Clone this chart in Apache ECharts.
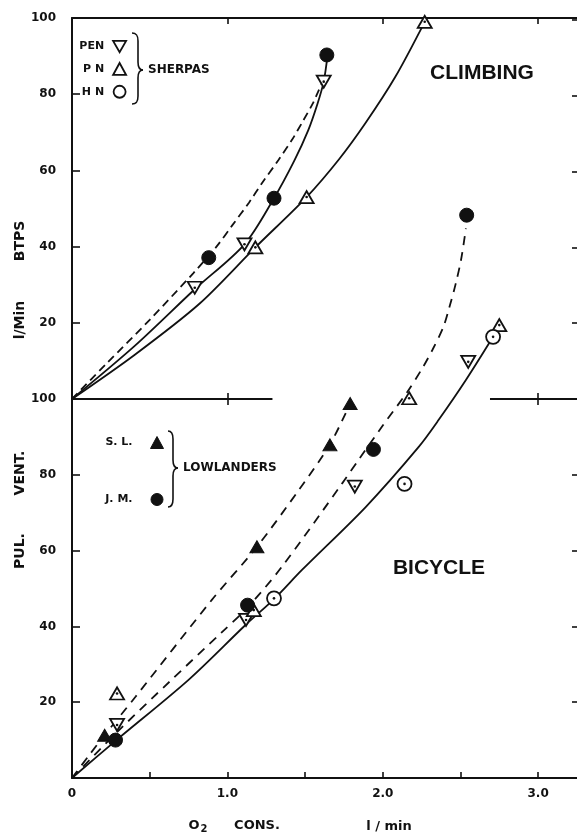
<!DOCTYPE html>
<html>
<head>
<meta charset="utf-8">
<script src="https://cdn.jsdelivr.net/npm/echarts@6/dist/echarts.min.js"></script>
<style>
  html, body { margin: 0; padding: 0; background: #fff; }
  #chart { width: 577px; height: 834px; }
</style>
</head>
<body>
<div id="chart"></div>
<script>
// Pulmonary ventilation (l/min BTPS) against O2 consumption (l/min)
// Upper panel: climbing; lower panel: bicycle ergometer.

// ---- tick labels ----
const xLabelValues = [0, 1, 2, 3];
const xLabels = ['0', '1.0', '2.0', '3.0'];
const xTickValues = [0.5, 1, 1.5, 2, 2.5, 3];
const yLabelValues = [20, 40, 60, 80, 100];
const yTickValues = [20, 40, 60, 80];

// ---- climbing: observed points [O2 cons, ventilation] ----
const climbPEN = [[0.79, 29.2], [1.11, 40.6], [1.62, 83.3]];
const climbPN = [[1.18, 39.8], [1.51, 53.0], [2.27, 99.0]];
const climbFilled = [[0.88, 37.1], [1.30, 52.7], [1.64, 90.3]];

// ---- climbing: fitted curves ----
const climbDashed = [[0, 0], [0.22, 9.2], [0.50, 20.8], [0.78, 33.0], [0.93, 40.0], [1.03, 45.5],
  [1.14, 51.6], [1.22, 56.5], [1.33, 62.8], [1.42, 68.3], [1.48, 72.5], [1.55, 77.6], [1.59, 81.2], [1.61, 83.0]];
const climbSolidA = [[0, 0], [0.40, 13.8], [0.79, 28.8], [1.11, 40.6], [1.30, 52.7], [1.43, 62.5],
  [1.52, 70.5], [1.58, 77.5], [1.62, 83.3], [1.645, 90.3]];
const climbSolidB = [[0, 0], [0.40, 11.5], [0.82, 25.0], [1.18, 39.8], [1.51, 53.0], [1.72, 63.0],
  [1.89, 72.5], [2.08, 84.5], [2.27, 99.0]];

// ---- bicycle: observed points ----
const bikePEN = [[0.29, 14.0], [1.12, 41.7], [1.82, 76.9], [2.55, 109.8]];
const bikePN = [[0.29, 22.3], [1.17, 44.3], [2.17, 100.2], [2.75, 119.5]];
const bikeHN = [[1.30, 47.4], [2.14, 77.6], [2.71, 116.4]];
const bikeSL = [[0.21, 11.3], [1.19, 61.0], [1.66, 87.9], [1.79, 98.8]];
const bikeJM = [[0.28, 10.0], [1.13, 45.6], [1.94, 86.7], [2.54, 148.5]];

// ---- bicycle: fitted curves ----
const bikeSLFit = [[0, 0], [0.11, 6.0], [0.21, 11.3], [0.41, 21.5], [0.90, 47.0], [1.19, 61.0],
  [1.46, 76.0], [1.66, 88.0], [1.79, 98.8]];
const bikeJMFit = [[0, 0], [0.30, 12.5], [0.63, 25.5], [0.96, 38.3], [1.13, 45.0], [1.35, 55.7],
  [1.74, 77.8], [1.85, 84.3], [2.00, 93.0], [2.16, 102.0], [2.26, 108.5], [2.32, 113.0], [2.39, 119.0],
  [2.43, 124.4], [2.47, 130.5], [2.505, 137.0], [2.535, 145.0]];
const bikeSherpaFit = [[0, 0], [0.28, 9.8], [0.75, 25.9], [1.12, 40.5], [1.30, 47.2], [1.48, 54.9],
  [1.89, 71.5], [2.23, 87.3], [2.36, 94.5], [2.535, 105.0], [2.71, 116.4]];

const FONT = 'DejaVu Sans';
const INK = '#111';
const TRI_DOWN = 'path://M0,0L10,0L5,8.66Z';

const openStyle = { color: '#fff', borderColor: INK, borderWidth: 1.8, opacity: 1 };
const filledStyle = { color: INK, borderColor: INK, borderWidth: 1, opacity: 1 };

function fitLine(name, data, grid, dashed) {
  const axes = grid === 0 ? { xAxisIndex: 0, yAxisIndex: 0 } : { xAxisIndex: 1, yAxisIndex: 2 };
  return Object.assign({
    name, type: 'line', data, smooth: 0.3, showSymbol: false, silent: true, z: 2,
    lineStyle: { color: INK, width: 1.8, type: dashed || 'solid', opacity: 1 }
  }, axes);
}
function points(name, data, grid, symbol, size, style) {
  const axes = grid === 0 ? { xAxisIndex: 0, yAxisIndex: 0 } : { xAxisIndex: 1, yAxisIndex: 2 };
  return Object.assign({
    name, type: 'scatter', data, symbol, symbolSize: size, itemStyle: style, z: 3, silent: true
  }, axes);
}
function centreDots(name, data, grid) {
  const axes = grid === 0 ? { xAxisIndex: 0, yAxisIndex: 0 } : { xAxisIndex: 1, yAxisIndex: 2 };
  return Object.assign({
    name, type: 'scatter', data, symbol: 'circle', symbolSize: 2.6,
    itemStyle: { color: INK, opacity: 1 }, z: 4, silent: true
  }, axes);
}

// curly brace "}" built from bezier pieces and straight runs
function brace(x0, x1, xTip, yTop, yMid, yBot) {
  const st = { fill: 'none', stroke: INK, lineWidth: 1.6 };
  const r = 8;
  return [
    { type: 'bezierCurve', shape: { x1: x0, y1: yTop, x2: x1, y2: yTop + r, cpx1: x1 - 1, cpy1: yTop, cpx2: x1, cpy2: yTop + 3 }, style: st },
    { type: 'line', shape: { x1: x1, y1: yTop + r, x2: x1, y2: yMid - r }, style: st },
    { type: 'bezierCurve', shape: { x1: x1, y1: yMid - r, x2: xTip, y2: yMid, cpx1: x1, cpy1: yMid - 3, cpx2: x1 + 2, cpy2: yMid }, style: st },
    { type: 'bezierCurve', shape: { x1: xTip, y1: yMid, x2: x1, y2: yMid + r, cpx1: x1 + 2, cpy1: yMid, cpx2: x1, cpy2: yMid + 3 }, style: st },
    { type: 'line', shape: { x1: x1, y1: yMid + r, x2: x1, y2: yBot - r }, style: st },
    { type: 'bezierCurve', shape: { x1: x1, y1: yBot - r, x2: x0, y2: yBot, cpx1: x1, cpy1: yBot - 3, cpx2: x1 - 1, cpy2: yBot }, style: st }
  ];
}

function label(text, x, y, font, align, rotation) {
  return {
    type: 'text', x, y, rotation: rotation || 0,
    style: { text, fill: INK, font, align: align || 'center', verticalAlign: 'middle',
      textAlign: align || 'center', textVerticalAlign: 'middle' }
  };
}

const tickFont = { color: INK, fontFamily: FONT, fontWeight: 'bold', fontSize: 12 };
const axisLineStyle = { color: INK, width: 2 };
const tickLineStyle = { color: INK, width: 1.6 };

const climbLineA = fitLine('climb solid A', climbSolidA, 1);
// broken baseline of the climbing panel, interrupted where the bicycle curves cross it
climbLineA.markLine = {
  silent: true, symbol: ['none', 'none'], label: { show: false },
  lineStyle: { color: INK, width: 2, type: 'solid', opacity: 1 },
  data: [
    [{ coord: [0, 0] }, { coord: [1.29, 0] }],
    [{ coord: [2.69, 0] }, { coord: [3.25, 0] }]
  ]
};

const ROT = Math.PI / 2;
const TITLE_FONT = 'bold 14px "DejaVu Sans"';

const option = {
  animation: false,
  backgroundColor: '#fff',
  grid: [
    { left: 72, right: 0, top: 20, bottom: 56 },
    { left: 72, right: 0, top: 18, bottom: 435 }
  ],
  xAxis: [
    {
      gridIndex: 0, type: 'value', min: 0, max: 3.25, interval: 0.5, position: 'bottom',
      axisLine: { show: true, onZero: false, lineStyle: axisLineStyle },
      axisTick: { show: true, inside: true, length: 6, lineStyle: tickLineStyle, customValues: xTickValues },
      axisLabel: Object.assign({
        show: true, margin: 10, customValues: xLabelValues,
        formatter: v => { const i = xLabelValues.indexOf(v); return i >= 0 ? xLabels[i] : ''; }
      }, tickFont),
      splitLine: { show: false }
    },
    {
      gridIndex: 1, type: 'value', min: 0, max: 3.25, interval: 0.5, position: 'top',
      axisLine: { show: true, onZero: false, lineStyle: axisLineStyle },
      axisTick: { show: true, inside: true, length: 6, lineStyle: tickLineStyle, customValues: [1, 2, 3] },
      axisLabel: { show: false },
      splitLine: { show: false }
    },
    {
      gridIndex: 1, type: 'value', min: 0, max: 3.25, interval: 0.5, position: 'bottom', offset: -6,
      axisLine: { show: false, onZero: false },
      axisTick: { show: true, inside: false, length: 12, lineStyle: tickLineStyle, customValues: [1, 3] },
      axisLabel: { show: false },
      splitLine: { show: false }
    }
  ],
  yAxis: [
    {
      gridIndex: 0, type: 'value', min: 0, max: 200, interval: 20, position: 'left',
      axisLine: { show: true, onZero: false, lineStyle: axisLineStyle },
      axisTick: { show: true, inside: true, length: 8, lineStyle: tickLineStyle, customValues: yTickValues },
      axisLabel: Object.assign({
        show: true, margin: 16, customValues: yLabelValues,
        formatter: v => (yLabelValues.indexOf(v) >= 0 ? String(v) : '')
      }, tickFont),
      splitLine: { show: false }
    },
    {
      gridIndex: 0, type: 'value', min: 0, max: 200, interval: 20, position: 'right',
      axisLine: { show: false, onZero: false },
      axisTick: { show: true, inside: true, length: 5, lineStyle: tickLineStyle },
      axisLabel: { show: false },
      splitLine: { show: false }
    },
    {
      gridIndex: 1, type: 'value', min: 0, max: 100, interval: 20, position: 'left',
      axisLine: { show: true, onZero: false, lineStyle: axisLineStyle },
      axisTick: { show: true, inside: true, length: 8, lineStyle: tickLineStyle, customValues: yTickValues },
      axisLabel: Object.assign({
        show: true, margin: 16, customValues: yLabelValues,
        formatter: v => (yLabelValues.indexOf(v) >= 0 ? String(v) : '')
      }, tickFont),
      splitLine: { show: false }
    }
  ],
  legend: [
    {
      data: [{ name: 'PEN', icon: TRI_DOWN }, { name: 'P N', icon: 'triangle' }, { name: 'H N', icon: 'circle' }],
      orient: 'vertical', align: 'right', right: 450, top: 40, padding: 0,
      itemWidth: 13, itemHeight: 12, itemGap: 9, selectedMode: false,
      itemStyle: { borderColor: INK, borderWidth: 1.8, opacity: 1 },
      textStyle: { color: INK, fontFamily: FONT, fontWeight: 'bold', fontSize: 11, padding: [0, 4, 0, 0] }
    },
    {
      data: [{ name: 'S. L.', icon: 'triangle' }, { name: 'J. M.', icon: 'circle' }],
      orient: 'vertical', align: 'right', right: 413, top: 436, padding: 0,
      itemWidth: 13, itemHeight: 12, itemGap: 44, selectedMode: false,
      itemStyle: { borderColor: INK, borderWidth: 1, opacity: 1 },
      textStyle: { color: INK, fontFamily: FONT, fontWeight: 'bold', fontSize: 11, padding: [0, 13, 0, 0] }
    }
  ],
  series: [
    // bicycle
    fitLine('bicycle Sherpas', bikeSherpaFit, 0),
    fitLine('bicycle J. M.', bikeJMFit, 0, [9, 7]),
    fitLine('bicycle S. L.', bikeSLFit, 0, [9, 7]),
    points('PEN', bikePEN, 0, TRI_DOWN, [14, 12], openStyle),
    points('P N', bikePN, 0, 'triangle', [14, 12], openStyle),
    points('H N', bikeHN, 0, 'circle', 14, openStyle),
    points('S. L.', bikeSL, 0, 'triangle', [14, 12], filledStyle),
    points('J. M.', bikeJM, 0, 'circle', 14, filledStyle),
    centreDots('bicycle centres', bikePEN.concat(bikePN, bikeHN), 0),
    // climbing
    fitLine('climb dashed', climbDashed, 1, [8, 5]),
    climbLineA,
    fitLine('climb solid B', climbSolidB, 1),
    points('PEN', climbPEN, 1, TRI_DOWN, [14, 12], openStyle),
    points('P N', climbPN, 1, 'triangle', [14, 12], openStyle),
    points('climb filled', climbFilled, 1, 'circle', 14, filledStyle),
    centreDots('climb centres', climbPEN.concat(climbPN), 1)
  ],
  graphic: [
    // vertical axis title, read bottom to top
    label('PUL.', 20, 551, TITLE_FONT, 'center', ROT),
    label('VENT.', 20, 473, TITLE_FONT, 'center', ROT),
    label('l/Min', 20, 320, TITLE_FONT, 'center', ROT),
    label('BTPS', 20, 241, TITLE_FONT, 'center', ROT),
    // horizontal axis title
    { type: 'text', x: 198, y: 826, style: { text: '{o|O}{s|2}', align: 'center', verticalAlign: 'middle', textAlign: 'center', textVerticalAlign: 'middle',
        rich: { o: { fill: INK, fontFamily: FONT, fontWeight: 'bold', fontSize: 13 }, s: { fill: INK, fontFamily: FONT, fontWeight: 'bold', fontSize: 10, padding: [7, 0, 0, 1] } } } },
    label('CONS.', 257, 826, 'bold 13px "DejaVu Sans"'),
    label('l / min', 389, 827, 'bold 13px "DejaVu Sans"'),
    // panel titles
    label('CLIMBING', 482, 73, 'bold 21px "Liberation Sans"'),
    label('BICYCLE', 439, 568, 'bold 21px "Liberation Sans"'),
    // group labels
    label('SHERPAS', 148, 70, 'bold 12px "DejaVu Sans"', 'left'),
    label('LOWLANDERS', 183, 468, 'bold 12px "DejaVu Sans"', 'left')
  ].concat(brace(132, 138, 143, 33, 70, 104), brace(168, 173, 178, 431, 468, 507))
};

const chart = echarts.init(document.getElementById('chart'), null, { renderer: 'canvas' });
chart.setOption(option);
</script>
</body>
</html>
